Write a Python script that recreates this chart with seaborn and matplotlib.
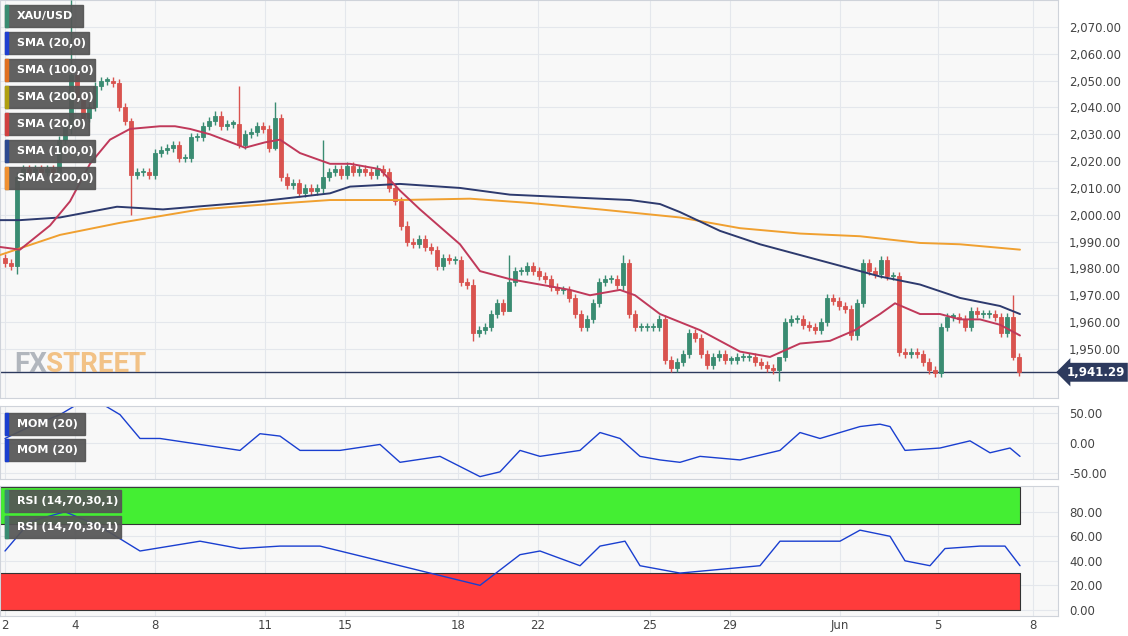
import numpy as np
import pandas as pd
import matplotlib
matplotlib.use("Agg")
import matplotlib.pyplot as plt
import seaborn as sns

closes = [1982,1981,2014,2017,2016,2017,2016,2017,2016,2028,
          2033,2052,2043,2036,2040,2048,2050,2050,2049,2040,2035,2015,
          2016,2016,2015,2023,2024,2025,2026,2021,2021,2029,2029,2033,2035,2037,2033,2034,2034,2026,
          2030,2031,2033,2032,2025,2036,2014,2011,2012,2008,2010,2009,2010,2014,2016,2017,2015,2018,
          2016,2017,2016,2015,2017,2016,2010,2005,1996,1990,1989,1991,1988,1987,1981,1984,1983,1983,
          1975,1974,1956,1957,1958,1963,1967,1964,1975,1979,1979,1981,1979,1977,1976,1973,1972,1972,
          1969,1963,1958,1961,1967,1975,1976,1976,1974,1982,1963,1958,1958,1958,1958,1961,1946,1943,
          1945,1948,1956,1954,1948,1944,1947,1948,1946,1946,1947,1947,1947,1945,1944,1943,1942,1947,
          1960,1961,1961,1959,1958,1957,1960,1969,1968,1966,1965,1955,1967,1982,1979,1978,1983,1977,
          1977,1949,1948,1949,1948,1945,1942,1941,1958,1962,1962,1961,1958,1964,1963,1963,1963,1962,
          1956,1962,1947,1941.29]
first_open = 1984
long_wicks = {11: (2080, 2030), 21: (2036, 2000), 39: (2048, 2025), 45: (2042, 2024),
              53: (2028, 2008), 78: (1976, 1953), 84: (1985, 1965), 103: (1985, 1972),
              129: (1947, 1938), 168: (1970, 1946), 2: (2016, 1978)}

sma20_px = [0,20,50,70,90,110,130,160,175,190,210,245,265,280,300,330,350,380,400,420,460,480,510,540,570,590,620,635,660,700,740,770,800,830,855,880,895,920,940,960,980,1000,1020]
sma20_y = [1988,1987,1996,2005,2019,2028,2032,2033,2033,2032,2030,2025,2027,2028,2023,2019,2019,2017,2009,2002,1989,1979,1976,1974,1972,1970,1972,1970,1963,1957,1949,1947,1952,1953,1957,1963,1967,1963,1963,1961,1961,1959,1955]
sma100_px = [0,20,60,117,163,260,330,350,400,460,510,600,630,660,680,720,760,800,840,880,920,960,1000,1020]
sma100_y = [1998,1998,1999,2003,2002,2005,2008,2010.5,2011.5,2010,2007.5,2006,2005.5,2004,2001,1994,1989,1985,1981,1977,1974,1969,1966,1963]
sma200_px = [0,60,120,200,260,330,400,470,530,600,680,740,800,860,920,960,1020]
sma200_y = [1985,1992.5,1997,2002,2003.7,2005.5,2005.5,2006,2004.4,2002,1999,1995,1993,1992,1989.5,1989,1987]

mom_px = [5,30,60,80,100,120,140,160,200,240,260,280,300,340,380,400,440,480,500,520,540,580,600,620,640,660,680,700,740,780,800,820,840,860,880,890,905,940,970,990,1010,1020]
mom_v = [8,28,48,68,68,48,8,8,-2,-12,16,12,-12,-12,-2,-32,-22,-56,-48,-12,-22,-12,18,8,-22,-28,-32,-22,-28,-12,18,8,18,28,32,28,-12,-8,4,-16,-8,-22]

rsi_px = [5,30,65,100,140,200,240,280,320,360,400,440,480,520,540,580,600,625,640,680,720,760,780,820,840,860,890,905,930,945,980,1005,1020]
rsi_v = [48,72,80,68,48,56,50,52,52,44,36,28,20,45,48,36,52,56,36,30,33,36,56,56,56,65,60,40,36,50,52,52,36]

xtick_px = [5, 75, 155, 265, 345, 458, 538, 650, 730, 840, 938, 1033]
xtick_labels = ["2", "4", "8", "11", "15", "18", "22", "25", "29", "Jun", "5", "8"]

def px2i(p):
    return (np.asarray(p, dtype=float) - 5) / 6.0

GREEN = "#3a8c72"; RED = "#d9534f"
C20 = "#c0395a"; C100 = "#2d3a6e"; C200 = "#f0a030"; GRID = "#e4e7ec"; BG = "#f8f8f8"

sns.set_style("white")
fig = plt.figure(figsize=(11.28, 6.36), dpi=100)
fig.patch.set_facecolor("white")
W, H = 1128, 636
def axrect(top, bottom):
    return [0, 1 - bottom / H, 1058 / W, (bottom - top) / H]
ax = fig.add_axes(axrect(0, 398))
axm = fig.add_axes(axrect(406, 479))
axr = fig.add_axes(axrect(486, 616))
xlim = (px2i(0), px2i(1058))

for a in (ax, axm, axr):
    a.set_facecolor(BG)
    a.set_xlim(*xlim)
    a.yaxis.tick_right()
    a.tick_params(axis="y", length=0, labelsize=8.5, labelcolor="#444", pad=8)
    a.set_xticks(px2i(xtick_px))
    a.grid(True, color=GRID, lw=0.8)
    for s in a.spines.values():
        s.set_color("#cfd3da")
    a.set_axisbelow(True)

# candles
n = len(closes)
opens = [first_open] + closes[:-1]
for i in range(n):
    o, c = opens[i], closes[i]
    col = GREEN if c >= o else RED
    hi, lo = long_wicks.get(i, (max(o, c) + 1.5, min(o, c) - 1.5))
    ax.vlines(i, lo, hi, color=col, lw=1, zorder=3)
    ax.bar(i, max(abs(c - o), 0.5), bottom=min(o, c), width=0.72, color=col,
           edgecolor=col, linewidth=0.6, zorder=4)

sns.lineplot(x=px2i(sma200_px), y=sma200_y, ax=ax, color=C200, lw=1.4, zorder=5)
sns.lineplot(x=px2i(sma100_px), y=sma100_y, ax=ax, color=C100, lw=1.4, zorder=5)
sns.lineplot(x=px2i(sma20_px), y=sma20_y, ax=ax, color=C20, lw=1.4, zorder=5)
ax.axhline(closes[-1], color="#2d3a5e", lw=1, zorder=2)
ax.set_ylim(1931.7, 2080.06)
ax.set_yticks(np.arange(1950, 2071, 10))
ax.set_yticklabels([f"{v:,.2f}" for v in np.arange(1950, 2071, 10)])
ax.set_xticklabels([])
ax.tick_params(axis="x", length=0)
ax.text(1.008, closes[-1], f"{closes[-1]:,.2f}", transform=ax.get_yaxis_transform(),
        va="center", ha="left", fontsize=8.5, color="white", fontweight="bold",
        bbox=dict(boxstyle="larrow,pad=0.25", fc="#2d3a5e", ec="none"), clip_on=False)
fig.text(14 / W, 1 - 364 / H, "FX", fontsize=20, color="#9aa0aa", alpha=0.75,
         fontweight="bold", fontfamily="Roboto", va="center")
fig.text(46 / W, 1 - 364 / H, "STREET", fontsize=20, color="#f0b060", alpha=0.75,
         fontweight="bold", fontfamily="Roboto", va="center")

legend_items = [("XAU/USD", GREEN), ("SMA (20,0)", "#1f3fd0"), ("SMA (100,0)", "#e07020"),
                ("SMA (200,0)", "#b0a010"), ("SMA (20,0)", "#d04040"), ("SMA (100,0)", "#2d4a90"),
                ("SMA (200,0)", "#f09030")]
def legend_box(y, lab, col, w):
    fig.patches.append(plt.Rectangle((5 / W, 1 - (y + 11) / H), w / W, 22 / H,
                                     transform=fig.transFigure, color="#555555", alpha=0.93, zorder=10))
    fig.patches.append(plt.Rectangle((5 / W, 1 - (y + 11) / H), 3 / W, 22 / H,
                                     transform=fig.transFigure, color=col, zorder=11))
    fig.text(17 / W, 1 - y / H, lab, fontsize=8, color="white", va="center", ha="left",
             fontweight="bold", zorder=12)

for k, (lab, col) in enumerate(legend_items):
    legend_box(16 + 27 * k, lab, col, 78 if k == 0 else (84 if "20," in lab else 90))

# MOM
sns.lineplot(x=px2i(mom_px), y=mom_v, ax=axm, color="#1a3fd0", lw=1)
axm.set_ylim(-60, 62.5)
axm.set_yticks([-50, 0, 50])
axm.set_yticklabels(["-50.00", "0.00", "50.00"])
axm.set_xticklabels([]); axm.tick_params(axis="x", length=0)
for k in range(2):
    legend_box(424 + 26 * k, "MOM (20)", "#1a3fd0", 80)

# RSI
axr.fill_between([xlim[0], px2i(1020)], 70, 100, color="#44ee33", ec="#333", lw=0.8, zorder=1)
axr.fill_between([xlim[0], px2i(1020)], 0, 30, color="#ff3b3b", ec="#333", lw=0.8, zorder=1)
sns.lineplot(x=px2i(rsi_px), y=rsi_v, ax=axr, color="#1a3fd0", lw=1, zorder=3)
axr.set_ylim(-5, 101)
axr.set_yticks([0, 20, 40, 60, 80])
axr.set_yticklabels(["0.00", "20.00", "40.00", "60.00", "80.00"])
axr.set_xticklabels(xtick_labels, fontsize=8.5, color="#444")
axr.tick_params(axis="x", length=0, pad=2)
for k in range(2):
    legend_box(501 + 26 * k, "RSI (14,70,30,1)", GREEN, 116)

fig.savefig("out.png", dpi=100)
